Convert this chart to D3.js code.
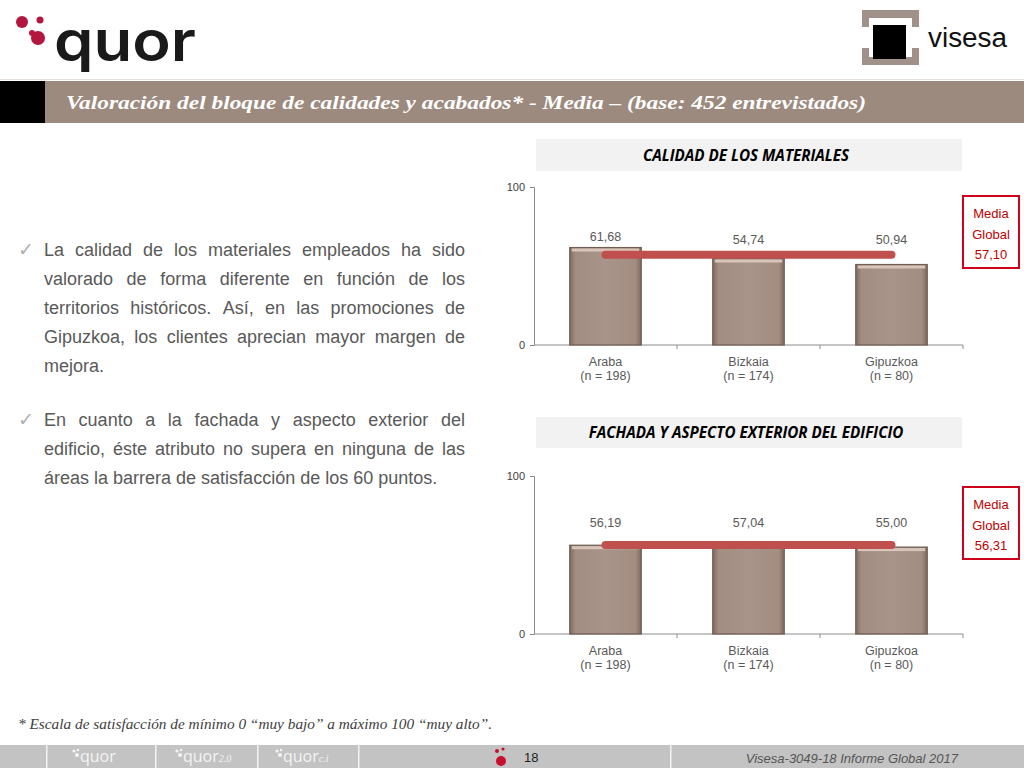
<!DOCTYPE html>
<html><head><meta charset="utf-8">
<script src="https://cdn.jsdelivr.net/npm/d3@7"></script>
<style>body{margin:0;background:#fff;} svg{display:block;}</style>
</head><body>
<svg id="c" width="1024" height="768"></svg>
<script>
// ---------- DATA ----------
const categories = ["Araba", "Bizkaia", "Gipuzkoa"];
const sampleSizes = ["(n = 198)", "(n = 174)", "(n = 80)"];
const valuesMateriales = [61.68, 54.74, 50.94];
const valuesFachada = [56.19, 57.04, 55.00];
const mediaGlobal = [57.10, 56.31];
const chartTitles = ["CALIDAD DE LOS MATERIALES", "FACHADA Y ASPECTO EXTERIOR DEL EDIFICIO"];
const yTicks = [0, 100];
const mainTitle = "Valoración del bloque de calidades y acabados* - Media – (base: 452 entrevistados)";
const paragraph1 = [
  "La calidad de los materiales empleados ha sido",
  "valorado de forma diferente en función de los",
  "territorios históricos. Así, en las promociones de",
  "Gipuzkoa, los clientes aprecian mayor margen de",
  "mejora."];
const paragraph2 = [
  "En cuanto a la fachada y aspecto exterior del",
  "edificio, éste atributo no supera en ninguna de las",
  "áreas la barrera de satisfacción de los 60 puntos."];
const footnote = "* Escala de satisfacción de mínimo 0 “muy bajo” a máximo 100 “muy alto”.";
const pageNumber = "18";
const footerRight = "Visesa-3049-18  Informe Global 2017";

// ---------- SETUP ----------
const svg = d3.select("#c");
const SANS = "'Liberation Sans', Arial, sans-serif";
const SERIF = "'Liberation Serif', 'DejaVu Serif', serif";
const loc = d3.formatLocale({decimal: ",", thousands: ".", grouping: [3], currency: ["", "€"]});
const fmt = loc.format(".2f");

const defs = svg.append("defs");
const g1 = defs.append("linearGradient").attr("id", "barGrad").attr("x1", 0).attr("x2", 1).attr("y1", 0).attr("y2", 0);
[[0, "#7f6a5f"], [0.08, "#a38d81"], [0.5, "#a8948a"], [0.92, "#a38d81"], [1, "#7f6a5f"]]
  .forEach(([o, c]) => g1.append("stop").attr("offset", o).attr("stop-color", c));

// ---------- HEADER ----------
// quor logo
const logo = svg.append("g");
logo.append("circle").attr("cx", 22).attr("cy", 22).attr("r", 6).attr("fill", "#b3163f");
logo.append("circle").attr("cx", 40).attr("cy", 20).attr("r", 3.5).attr("fill", "#b3163f");
logo.append("circle").attr("cx", 32).attr("cy", 33).attr("r", 3).attr("fill", "#b3163f");
logo.append("circle").attr("cx", 38).attr("cy", 38).attr("r", 7).attr("fill", "#b3163f");
logo.append("text").attr("x", 54).attr("y", 61).attr("font-family", "Inter, 'Open Sans', sans-serif")
  .attr("font-weight", 600).attr("font-size", 56).attr("fill", "#1a1a1a")
  .attr("textLength", 142).attr("lengthAdjust", "spacingAndGlyphs")
  .text("quor");

// visesa logo
const vis = svg.append("g");
const br = "#a0928a";
vis.append("rect").attr("x", 862).attr("y", 10).attr("width", 57).attr("height", 8).attr("fill", br);
vis.append("rect").attr("x", 862).attr("y", 10).attr("width", 7).attr("height", 17).attr("fill", br);
vis.append("rect").attr("x", 912).attr("y", 10).attr("width", 7).attr("height", 17).attr("fill", br);
vis.append("rect").attr("x", 862).attr("y", 57).attr("width", 57).attr("height", 8).attr("fill", br);
vis.append("rect").attr("x", 862).attr("y", 48).attr("width", 7).attr("height", 17).attr("fill", br);
vis.append("rect").attr("x", 912).attr("y", 48).attr("width", 7).attr("height", 17).attr("fill", br);
vis.append("rect").attr("x", 873).attr("y", 25).attr("width", 33).attr("height", 34).attr("fill", "#000");
vis.append("text").attr("x", 928).attr("y", 47).attr("font-family", SANS).attr("font-size", 27)
  .attr("fill", "#111").attr("textLength", 79).attr("lengthAdjust", "spacingAndGlyphs").text("visesa");

// title bar
svg.append("rect").attr("x", 0).attr("y", 79).attr("width", 1024).attr("height", 1).attr("fill", "#e5e0dc");
svg.append("rect").attr("x", 0).attr("y", 81).attr("width", 1024).attr("height", 42).attr("fill", "#9d8a7e");
svg.append("rect").attr("x", 0).attr("y", 81).attr("width", 45).attr("height", 42).attr("fill", "#000");
svg.append("text").attr("x", 66).attr("y", 109).attr("font-family", SERIF).attr("font-style", "italic")
  .attr("font-weight", "bold").attr("font-size", 19).attr("fill", "#fff")
  .attr("textLength", 800).attr("lengthAdjust", "spacingAndGlyphs").text(mainTitle);

// ---------- LEFT TEXT (justified) ----------
function justified(lines, x0, x1, y0, lh) {
  lines.forEach((line, i) => {
    const words = line.split(" ");
    const last = i === lines.length - 1;
    const y = y0 + i * lh;
    const nodes = words.map(w => svg.append("text").attr("y", y).attr("font-family", SANS)
      .attr("font-size", 18).attr("fill", "#595959").text(w));
    const widths = nodes.map(n => n.node().getComputedTextLength());
    const total = d3.sum(widths);
    const gap = last ? 5 : (x1 - x0 - total) / (words.length - 1);
    let x = x0;
    nodes.forEach((n, k) => { n.attr("x", x); x += widths[k] + gap; });
  });
}
svg.append("text").attr("x", 18).attr("y", 256).attr("font-family", "'DejaVu Sans', sans-serif")
  .attr("font-size", 19).attr("fill", "#b0b0b0").text("✓");
svg.append("text").attr("x", 18).attr("y", 426).attr("font-family", "'DejaVu Sans', sans-serif")
  .attr("font-size", 19).attr("fill", "#b0b0b0").text("✓");
justified(paragraph1, 44, 465, 256, 29);
justified(paragraph2, 44, 465, 426, 29);

// ---------- CHARTS ----------
function drawChart(cfg) {
  const g = svg.append("g");
  // title box
  g.append("rect").attr("x", 536).attr("y", cfg.boxTop).attr("width", 426).attr("height", cfg.boxH).attr("fill", "#f2f2f2");
  g.append("text").attr("x", 746).attr("y", cfg.boxTop + cfg.boxH / 2 + 5.5).attr("text-anchor", "middle")
    .attr("font-family", "'Open Sans', sans-serif").attr("font-style", "italic").attr("font-weight", "bold")
    .attr("font-size", 15.2).attr("fill", "#000").text(cfg.title);

  const x = d3.scaleBand().domain(categories).range([534, 963]).paddingInner(0.5).paddingOuter(0.25);
  const y = d3.scaleLinear().domain([0, 100]).range([cfg.bottom, cfg.top]);

  // y axis
  const ya = g.append("g").attr("transform", "translate(534,0)")
    .call(d3.axisLeft(y).tickValues(yTicks).tickSize(4).tickPadding(5).tickFormat(d3.format("d")));
  ya.select(".domain").attr("stroke", "#8c8c8c");
  ya.selectAll(".tick line").attr("stroke", "#8c8c8c");
  ya.selectAll(".tick text").attr("font-family", SANS).attr("font-size", 11).attr("fill", "#404040");

  // x axis baseline with boundary ticks
  g.append("line").attr("x1", 534).attr("x2", 963).attr("y1", cfg.bottom).attr("y2", cfg.bottom).attr("stroke", "#8c8c8c");
  d3.range(1, categories.length + 1).forEach(i => {
    const bx = x(categories[i - 1]) - x.step() * 0.25 + x.step();
    g.append("line").attr("x1", bx).attr("x2", bx).attr("y1", cfg.bottom).attr("y2", cfg.bottom + 4).attr("stroke", "#8c8c8c");
  });

  // bars
  g.selectAll(".bar").data(cfg.values).enter().append("rect")
    .attr("x", (d, i) => x(categories[i])).attr("width", x.bandwidth())
    .attr("y", d => y(d)).attr("height", d => cfg.bottom - y(d))
    .attr("fill", "url(#barGrad)").attr("stroke", "#6f5c52").attr("stroke-width", 1.2);
  g.selectAll(".hl").data(cfg.values).enter().append("rect")
    .attr("x", (d, i) => x(categories[i]) + 2).attr("width", x.bandwidth() - 4)
    .attr("y", d => y(d) + 1).attr("height", 3).attr("fill", "#d8c4b8");

  // mean line
  const cx = c => x(c) + x.bandwidth() / 2;
  g.append("line").attr("x1", cx(categories[0])).attr("x2", cx(categories[categories.length - 1]))
    .attr("y1", y(cfg.mean)).attr("y2", y(cfg.mean)).attr("stroke", "#c0504d")
    .attr("stroke-width", 8).attr("stroke-linecap", "round");

  // value labels
  const lineTop = y(cfg.mean) - 4;
  g.selectAll(".lbl").data(cfg.values).enter().append("text")
    .attr("x", (d, i) => cx(categories[i])).attr("y", d => Math.min(y(d), lineTop) - cfg.labelGap)
    .attr("text-anchor", "middle").attr("font-family", SANS).attr("font-size", 12.5).attr("fill", "#595959")
    .text(d => fmt(d));

  // category labels
  categories.forEach((c, i) => {
    g.append("text").attr("x", cx(c)).attr("y", cfg.bottom + 21).attr("text-anchor", "middle")
      .attr("font-family", SANS).attr("font-size", 12.5).attr("fill", "#595959").text(c);
    g.append("text").attr("x", cx(c)).attr("y", cfg.bottom + 35).attr("text-anchor", "middle")
      .attr("font-family", SANS).attr("font-size", 12.5).attr("fill", "#595959").text(sampleSizes[i]);
  });

  // media global box
  g.append("rect").attr("x", 963).attr("y", cfg.mTop).attr("width", 56).attr("height", 72)
    .attr("fill", "#fff").attr("stroke", "#d0021b").attr("stroke-width", 2);
  ["Media", "Global", fmt(cfg.mean)].forEach((t, k) => {
    g.append("text").attr("x", 991).attr("y", cfg.mTop + 22 + k * 20.5).attr("text-anchor", "middle")
      .attr("font-family", SANS).attr("font-size", 13).attr("fill", "#c00000").text(t);
  });
}

drawChart({title: chartTitles[0], values: valuesMateriales, mean: mediaGlobal[0],
  boxTop: 139, boxH: 32, top: 187, bottom: 345, mTop: 196, labelGap: 7});
drawChart({title: chartTitles[1], values: valuesFachada, mean: mediaGlobal[1],
  boxTop: 417, boxH: 31, top: 476, bottom: 634, mTop: 487, labelGap: 14});

// ---------- FOOTNOTE ----------
svg.append("text").attr("x", 18).attr("y", 729).attr("font-family", SERIF).attr("font-style", "italic")
  .attr("font-size", 14).attr("fill", "#404040").attr("textLength", 474).attr("lengthAdjust", "spacingAndGlyphs")
  .text(footnote);

// ---------- FOOTER ----------
svg.append("rect").attr("x", 0).attr("y", 745).attr("width", 1024).attr("height", 23).attr("fill", "#c3c3c3");
[46, 155, 257, 358, 670].forEach(xv => svg.append("rect").attr("x", xv).attr("y", 745).attr("width", 1.5).attr("height", 23).attr("fill", "#f4f4f4"));
function miniQuor(x0, sub) {
  const gg = svg.append("g").attr("fill", "#f4f4f4");
  gg.append("circle").attr("cx", x0).attr("cy", 751).attr("r", 1.6);
  gg.append("circle").attr("cx", x0 + 4).attr("cy", 750).attr("r", 1.2);
  gg.append("circle").attr("cx", x0 + 3).attr("cy", 755).attr("r", 2);
  const t = gg.append("text").attr("x", x0 + 6).attr("y", 762).attr("font-family", "'Open Sans', sans-serif")
    .attr("font-size", 16).text("quor");
  if (sub) t.append("tspan").attr("font-family", SERIF).attr("font-style", "italic").attr("font-size", 10).text(sub);
}
miniQuor(74, null);
miniQuor(177, "2.0");
miniQuor(277, "c.i");
svg.append("circle").attr("cx", 497).attr("cy", 751).attr("r", 2).attr("fill", "#c8102e");
svg.append("circle").attr("cx", 503).attr("cy", 749).attr("r", 1.6).attr("fill", "#c8102e");
svg.append("circle").attr("cx", 501).attr("cy", 761).attr("r", 5).attr("fill", "#c8102e");
svg.append("text").attr("x", 524).attr("y", 762).attr("font-family", SANS).attr("font-size", 13)
  .attr("fill", "#222").text(pageNumber);
svg.append("text").attr("x", 958).attr("y", 763).attr("text-anchor", "end").attr("font-family", SANS)
  .attr("font-style", "italic").attr("font-size", 13).attr("fill", "#555").text(footerRight);
</script>
</body></html>
